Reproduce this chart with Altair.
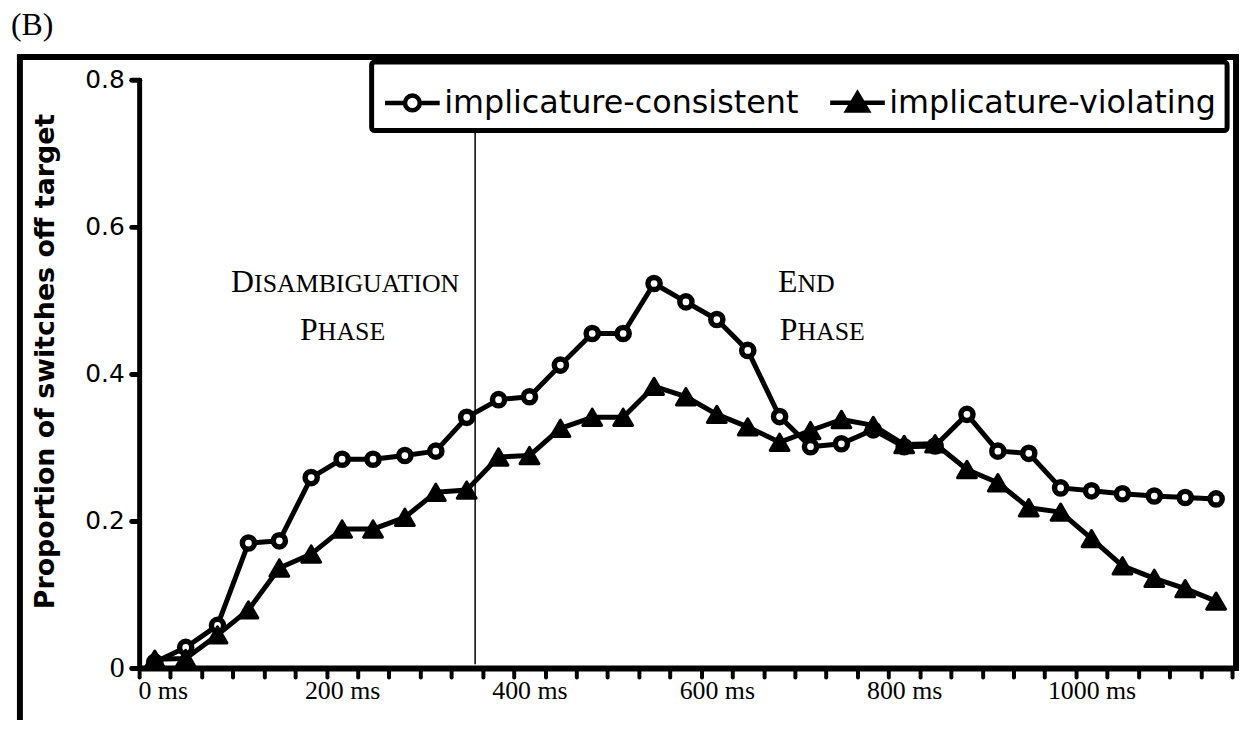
import altair as alt
import pandas as pd

# ---- data ----
times_ms = [0, 33, 67, 100, 133, 167, 200, 233, 267, 300, 333, 367, 400, 433, 467,
            500, 533, 567, 600, 633, 667, 700, 733, 767, 800, 833, 867, 900, 933,
            967, 1000, 1033, 1067, 1100, 1133]
consistent = [0.008, 0.028, 0.058, 0.170, 0.173, 0.259, 0.284, 0.284, 0.289, 0.295,
              0.341, 0.365, 0.369, 0.412, 0.455, 0.455, 0.523, 0.498, 0.474, 0.432,
              0.342, 0.301, 0.305, 0.324, 0.301, 0.302, 0.345, 0.295, 0.292, 0.245,
              0.241, 0.237, 0.234, 0.232, 0.230]
violating = [0.012, 0.013, 0.045, 0.079, 0.136, 0.155, 0.189, 0.189, 0.205, 0.239,
             0.242, 0.287, 0.289, 0.326, 0.341, 0.341, 0.383, 0.369, 0.345, 0.328,
             0.307, 0.323, 0.338, 0.330, 0.304, 0.305, 0.270, 0.252, 0.218, 0.212,
             0.176, 0.139, 0.122, 0.108, 0.091]
series_names = ["implicature-consistent", "implicature-violating"]
x_label_values = [0, 200, 400, 600, 800, 1000]
y_tick_values = [0, 0.2, 0.4, 0.6, 0.8]
phase_boundary_ms = [342]
ann_big = ["D", "P", "E", "P"]
ann_rest = ["ISAMBIGUATION", "HASE", "ND", "HASE"]
ann_x = [106, 174, 686, 686]
ann_y = [0.511, 0.446, 0.511, 0.446]
panel_label = ["(B)"]

# ---- tables ----
rows = []
for t, c, v in zip(times_ms, consistent, violating):
    rows.append({"t": t, "v": c, "series": series_names[0],
                 "shp": "circle", "fillc": "white", "sw": 5.5, "sz": 150})
    rows.append({"t": t, "v": v, "series": series_names[1],
                 "shp": "triangle-up", "fillc": "black", "sw": 3, "sz": 360})
df = pd.DataFrame(rows)

# category boundaries for the tick marks (Excel-style category axis)
step = 100.0 / 3.0
boundaries = [(k - 0.5) * step for k in range(len(times_ms) + 1)]
x_axis_values = boundaries + x_label_values

x_scale = alt.Scale(domain=[-step / 2, (len(times_ms) - 0.5) * step], nice=False, zero=False)
y_scale = alt.Scale(domain=[0, 0.8], nice=False, zero=True)

x_axis = alt.Axis(
    values=x_axis_values,
    labelExpr="datum.value % 200 == 0 ? datum.value + ' ms' : ''",
    labelFont="Liberation Serif", labelFontSize=26, labelColor="black",
    labelOverlap=False, labelFlush=False, labelPadding=1, labelBound=False,
    labelOffset={"condition": {"test": "datum.value == 0", "value": 8}, "value": 0},
    tickSize=9, tickWidth=4, tickColor="black", tickCap="round",
    tickOpacity={"condition": {"test": "datum.value % 200 == 0", "value": 0}, "value": 1},
    domainColor="black", domainWidth=6, domainCap="round",
    grid=False, title=None,
)
y_axis = alt.Axis(
    values=y_tick_values,
    labelExpr="datum.value == 0 ? '0' : format(datum.value, '.1f')",
    labelFont={"condition": {"test": "datum.value == 0", "value": "Liberation Serif"}, "value": "DejaVu Sans"},
    labelFontSize={"condition": {"test": "datum.value == 0", "value": 30}, "value": 25},
    labelColor="black", labelPadding=7, labelOverlap=False,
    tickSize=8, tickWidth=5, tickColor="black", tickCap="round",
    domainColor="black", domainWidth=5, domainCap="round",
    grid=False,
    title="Proportion of switches off target",
    titleFont="DejaVu Sans", titleFontWeight="bold", titleFontSize=27, titleColor="black",
    titleAngle=270, titleX=-94, titleY=283, titleAlign="center", titleBaseline="middle",
)

X = alt.X("t:Q", scale=x_scale, axis=x_axis)
Y = alt.Y("v:Q", scale=y_scale, axis=y_axis)

lines = alt.Chart(df).mark_line(color="black", strokeWidth=5, strokeJoin="round").encode(
    x=X, y=Y, detail="series:N"
)

points = alt.Chart(df).mark_point(filled=True, stroke="black", opacity=1, strokeJoin="round").encode(
    x=X, y=Y,
    shape=alt.Shape("shp:N", scale=None),
    fill=alt.Fill("fillc:N", scale=None),
    strokeWidth=alt.StrokeWidth("sw:Q", scale=None),
    size=alt.Size("sz:Q", scale=None),
)

circ_path = ("M-1,0L-0.27,0M0.27,0L1,0"
             "M0.27,0A0.27,0.27,0,1,1,-0.27,0A0.27,0.27,0,1,1,0.27,0Z")
tri_path = "M-1,0L1,0M0,-0.33L0.37,0.29L-0.37,0.29Z"

legend = alt.Legend(
    title=None, orient="none", legendX=234, legendY=-18, direction="horizontal",
    fillColor="white", strokeColor="black",
    padding=11, labelFont="DejaVu Sans", labelFontSize=32, labelColor="black",
    labelLimit=2000, labelOffset=2, columnPadding=22, symbolSize=3025,
    symbolStrokeColor="black", symbolStrokeWidth=4.5,
)
legend_layer = alt.Chart(df).mark_point(filled=False, strokeWidth=4.5, opacity=1).encode(
    x=X, y=Y,
    shape=alt.Shape("series:N", scale=alt.Scale(domain=series_names, range=[circ_path, tri_path]), legend=legend),
    fill=alt.Fill("series:N", scale=alt.Scale(domain=series_names, range=["white", "black"]), legend=legend),
    stroke=alt.Stroke("series:N", scale=alt.Scale(domain=series_names, range=["black", "black"]), legend=legend),
).transform_filter("false")

vline_df = pd.DataFrame({"t": phase_boundary_ms, "v": [0.8], "v2": [0.005]})
vline = alt.Chart(vline_df).mark_rule(color="black", strokeWidth=1.5).encode(
    x=X, y=Y, y2=alt.Y2("v2:Q")
)

ann_df = pd.DataFrame({"big": ann_big, "rest": ann_rest, "t": ann_x, "v": ann_y})
ann_big_layer = alt.Chart(ann_df).mark_text(
    align="right", baseline="alphabetic", font="Liberation Serif", fontSize=32, color="black"
).encode(x=X, y=Y, text="big:N")
ann_rest_layer = alt.Chart(ann_df).mark_text(
    align="left", baseline="alphabetic", font="Liberation Serif", fontSize=26, color="black"
).encode(x=X, y=Y, text="rest:N")

lab = alt.Chart(pd.DataFrame({"label": panel_label})).mark_text(
    align="left", baseline="alphabetic", font="Liberation Serif", fontSize=32, color="black"
).encode(x=alt.value(-129), y=alt.value(-45), text="label:N")

one = pd.DataFrame({"a": [0]})
frame_top = alt.Chart(one).mark_rule(color="black", strokeWidth=6, strokeCap="square").encode(
    x=alt.value(-120), x2=alt.value(1104), y=alt.value(-23))
frame_left = alt.Chart(one).mark_rule(color="black", strokeWidth=6, strokeCap="square").encode(
    x=alt.value(-120), y=alt.value(-23), y2=alt.value(700))
frame_right = alt.Chart(one).mark_rule(color="black", strokeWidth=6, strokeCap="square").encode(
    x=alt.value(1104), y=alt.value(-23), y2=alt.value(592))

chart = alt.layer(
    lines, frame_top, frame_left, frame_right, lab,
    vline, points, legend_layer, ann_big_layer, ann_rest_layer,
).resolve_scale(
    shape="independent", fill="independent", stroke="independent"
).properties(
    width=1100, height=592, background="white",
    autosize=alt.AutoSizeParams(type="none"),
    padding={"left": 132, "top": 70, "right": 8, "bottom": 50},
).configure_view(stroke=None).configure_legend(
    strokeWidth=5, cornerRadius=3
)

chart.save("out.html", embed_options={"renderer": "svg", "actions": False})
